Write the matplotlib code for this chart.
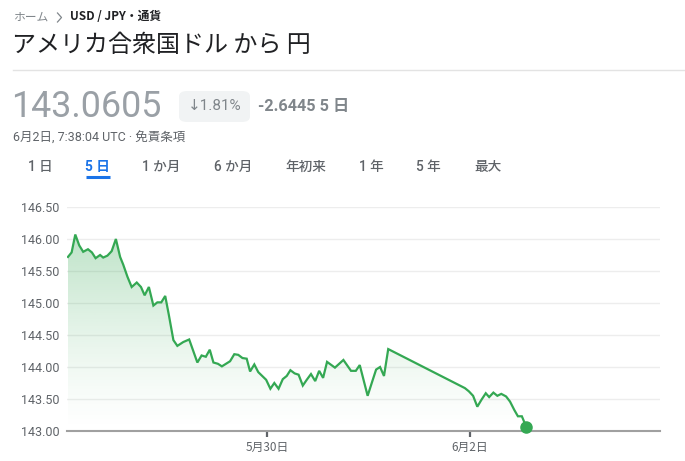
import numpy as np
import matplotlib
matplotlib.use("Agg")
import matplotlib.pyplot as plt
from matplotlib.patches import FancyBboxPatch
from matplotlib.lines import Line2D

plt.rcParams['font.family'] = ['Roboto', 'Noto Sans CJK JP', 'DejaVu Sans']

# USD/JPY over the last five days: hours since 5/27 00:00 and the rate
hours = [1.4, 2.7, 4.0, 5.4, 6.8, 8.5, 9.9, 11.2, 12.8, 13.9, 15.4, 16.9, 18.4,
         19.9, 21.0, 22.5, 24.0, 25.8, 27.3, 28.6, 30.1, 31.7, 33.1, 34.5, 35.9,
         37.2, 38.8, 40.2, 42.3, 44.4, 47.3, 48.8, 50.3, 51.7, 53.0, 54.6, 56.0,
         58.9, 60.4, 61.8, 63.3, 64.8, 66.0, 67.5, 68.9, 71.7, 73.2, 74.6, 76.1,
         77.6, 79.0, 80.3, 81.8, 83.2, 84.7, 86.1, 87.6, 89.1, 90.5, 91.9, 93.3,
         96.1, 99.1, 101.8, 103.5, 104.9, 107.7, 109.3, 110.7, 112.1, 113.5, 115.0,
         142.2, 143.6, 145.1, 146.6, 148.1, 149.6, 150.8, 152.3, 153.7, 155.1,
         156.8, 158.2, 159.7, 161.0, 162.4, 164.0]
rates = [145.72, 145.79, 146.07, 145.90, 145.80, 145.84, 145.79, 145.70, 145.75,
         145.71, 145.74, 145.81, 146.00, 145.72, 145.60, 145.41, 145.25, 145.32,
         145.25, 145.12, 145.25, 144.96, 145.01, 145.01, 145.11, 144.81, 144.42,
         144.33, 144.39, 144.43, 144.07, 144.18, 144.16, 144.27, 144.07, 144.05,
         144.01, 144.09, 144.20, 144.19, 144.14, 144.13, 143.93, 144.04, 143.92,
         143.80, 143.66, 143.75, 143.66, 143.81, 143.86, 143.95, 143.90, 143.88,
         143.71, 143.80, 143.89, 143.78, 143.94, 143.83, 144.08, 143.99, 144.11,
         143.94, 143.94, 144.03, 143.55, 143.77, 143.96, 144.00, 143.86, 144.28,
         143.67, 143.62, 143.55, 143.38, 143.49, 143.59, 143.53, 143.60, 143.55,
         143.58, 143.54, 143.46, 143.33, 143.23, 143.23, 143.0605]

x_tick_hours = [72, 144]
x_tick_labels = ['5月30日', '6月2日']
y_ticks = [143.0, 143.5, 144.0, 144.5, 145.0, 145.5, 146.0, 146.5]

price_text = '143.0605'
change_pct_text = '↓1.81%'
change_abs_text = '-2.6445 5 日'
timestamp_text = '6月2日, 7:38:04 UTC · 免責条項'
tabs = ['1 日', '5 日', '1 か月', '6 か月', '年初来', '1 年', '5 年', '最大']
tab_centers = [40, 97, 161, 233, 306, 371, 428, 488]
active_tab = 1

W, H = 685, 461
fig = plt.figure(figsize=(W / 100, H / 100), dpi=100)
fig.patch.set_facecolor('white')


def P(x, y):
    return x / W, 1 - y / H


JP = ['Noto Sans CJK JP', 'DejaVu Sans']
NUM = ['Roboto', 'Noto Sans CJK JP', 'DejaVu Sans']

# header
fig.text(*P(13, 17), 'ホーム', fontsize=8.5, color='#80868b', family=JP, va='center')
# breadcrumb chevron
fig.add_artist(Line2D([57.5 / W, 61.5 / W, 57.5 / W],
                      [1 - 13 / H, 1 - 17.5 / H, 1 - 22 / H],
                      color='#80868b', lw=0.9))
fig.text(*P(70, 17), 'USD / JPY・通貨', fontsize=8.5, color='#202124', family=JP,
         va='center', fontweight='bold')
fig.text(*P(12, 45), 'アメリカ合衆国ドル から 円', fontsize=17.3, color='#202124',
         family=JP, va='center')
fig.add_artist(Line2D([13 / W, 1], [1 - 70 / H] * 2, color='#e3e3e3', lw=1))

# price block
fig.text(*P(11, 107), price_text, fontsize=25.8, color='#9aa0a6', family=NUM,
         va='center')
badge = FancyBboxPatch(P(179, 122), 71 / W, 31 / H,
                       boxstyle='round,pad=0,rounding_size=0.012',
                       transform=fig.transFigure, facecolor='#f1f3f4',
                       edgecolor='none')
fig.add_artist(badge)
fig.text(*P(214.5, 106.5), change_pct_text, fontsize=11, color='#80868b',
         family=['Roboto', 'DejaVu Sans'], ha='center', va='center')
fig.text(*P(258, 106.5), change_abs_text, fontsize=11.7, color='#80868b',
         family=NUM, va='center', fontweight='bold')
fig.text(*P(13, 138), timestamp_text, fontsize=9, color='#5f6368',
         family=NUM, va='center')

# range tabs
for i, (lab, cx) in enumerate(zip(tabs, tab_centers)):
    active = i == active_tab
    fig.text(*P(cx, 167), lab, fontsize=9.8,
             color='#1a73e8' if active else '#5f6368', family=NUM,
             ha='center', va='center', fontweight='bold' if active else 'medium')
fig.add_artist(Line2D([86 / W, 110 / W], [1 - 177 / H] * 2, color='#1a73e8',
                      lw=2.2, solid_capstyle='butt'))

# chart
x0, x1, y_top, y_bot = 67, 660, 207, 431
ax = fig.add_axes([x0 / W, 1 - y_bot / H, (x1 - x0) / W, (y_bot - y_top) / H])
ax.set_xlim(1.06, 211.4)
ax.set_ylim(143.0, 146.5)
ax.patch.set_alpha(0)

for yv in y_ticks[1:]:
    ax.axhline(yv, color='#ededed', lw=1, zorder=0)

line_color = '#34a853'
ymax_data = max(rates)
grad = np.linspace(0, 1, 256).reshape(-1, 1)
rgba = np.zeros((256, 1, 4))
rgba[..., 0], rgba[..., 1], rgba[..., 2] = 0x34 / 255, 0xa8 / 255, 0x53 / 255
rgba[..., 3] = 0.32 * grad ** 1.3
img = ax.imshow(rgba, aspect='auto', origin='lower',
                extent=[hours[0], hours[-1], 143.0, ymax_data], zorder=1)
poly = ax.fill_between(hours, rates, 143.0, color='none', lw=0)
img.set_clip_path(poly.get_paths()[0], transform=ax.transData)

ax.plot(hours, rates, color=line_color, lw=1.6, zorder=3, solid_joinstyle='miter')
ax.plot(hours[-1], rates[-1], 'o', color=line_color, ms=8, zorder=4,
        clip_on=False)

for s in ['top', 'right', 'left']:
    ax.spines[s].set_visible(False)
ax.spines['bottom'].set_color('#a0a0a0')
ax.spines['bottom'].set_linewidth(1.5)

ax.set_yticks(y_ticks)
ax.set_yticklabels([f'{v:.2f}' for v in y_ticks], family=NUM, fontsize=9,
                   color='#5f6368')
ax.tick_params(axis='y', length=0, pad=5.5)
ax.set_xticks(x_tick_hours)
ax.set_xticklabels(x_tick_labels, family=JP, fontsize=8.5, color='#5f6368')
ax.tick_params(axis='x', length=4, width=1.6, color='#5f6368', pad=3)

fig.savefig('out.png', dpi=100, facecolor='white')
